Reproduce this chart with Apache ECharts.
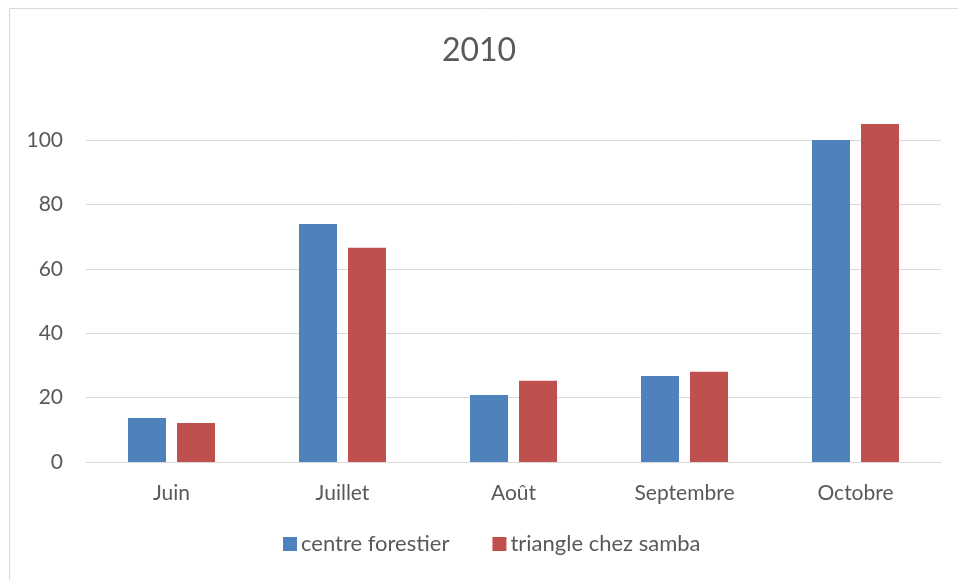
<!DOCTYPE html>
<html>
<head>
<meta charset="utf-8">
<script src="https://cdn.jsdelivr.net/npm/echarts@6/dist/echarts.min.js"></script>
<style>
  html, body { margin: 0; padding: 0; background: #fff; }
  #chart { width: 958px; height: 580px; }
</style>
</head>
<body>
<div id="chart"></div>
<script>
const categories = ['Juin', 'Juillet', 'Août', 'Septembre', 'Octobre'];
const centreForestier = [13.7, 73.9, 20.8, 26.7, 100];
const triangleChezSamba = [12.1, 66.5, 25.2, 28.0, 105];
const yTicks = [0, 20, 40, 60, 80, 100];

const font = 'Lato, "Open Sans", sans-serif';
const chart = echarts.init(document.getElementById('chart'));

const option = {
  animation: false,
  title: {
    text: '2010',
    left: 'center',
    top: 30,
    textStyle: { fontFamily: font, fontSize: 32, fontWeight: 'normal', color: '#595959' }
  },
  graphic: [{
    type: 'rect',
    shape: { x: 9.5, y: 8.5, width: 960, height: 580 },
    style: { fill: 'none', stroke: '#d9d9d9', lineWidth: 1 },
    silent: true
  }],
  legend: {
    bottom: 20,
    left: 278,
    itemWidth: 14,
    itemHeight: 14,
    itemGap: 43,
    icon: 'rect',
    textStyle: { fontFamily: font, fontSize: 22, color: '#595959', padding: [0, 0, 0, -1] },
    data: ['centre forestier', 'triangle chez samba']
  },
  grid: { left: 86, right: 17, top: 140, bottom: 118 },
  xAxis: {
    type: 'category',
    data: categories,
    axisLine: { lineStyle: { color: '#d9d9d9', width: 1 } },
    axisTick: { show: false },
    axisLabel: { fontFamily: font, fontSize: 21, color: '#595959', margin: 21 }
  },
  yAxis: {
    type: 'value',
    min: yTicks[0],
    max: yTicks[yTicks.length - 1],
    interval: 20,
    axisLine: { show: false },
    axisTick: { show: false },
    splitLine: { lineStyle: { color: '#d9d9d9', width: 1 } },
    axisLabel: { fontFamily: font, fontSize: 21, color: '#595959', margin: 23 }
  },
  series: [
    {
      name: 'centre forestier',
      type: 'bar',
      data: centreForestier,
      barWidth: 38,
      barGap: '29%',
      clip: false,
      itemStyle: { color: '#4f81bd' }
    },
    {
      name: 'triangle chez samba',
      type: 'bar',
      data: triangleChezSamba,
      barWidth: 38,
      barGap: '29%',
      clip: false,
      itemStyle: { color: '#c0504d' }
    }
  ]
};

chart.setOption(option);
</script>
</body>
</html>
